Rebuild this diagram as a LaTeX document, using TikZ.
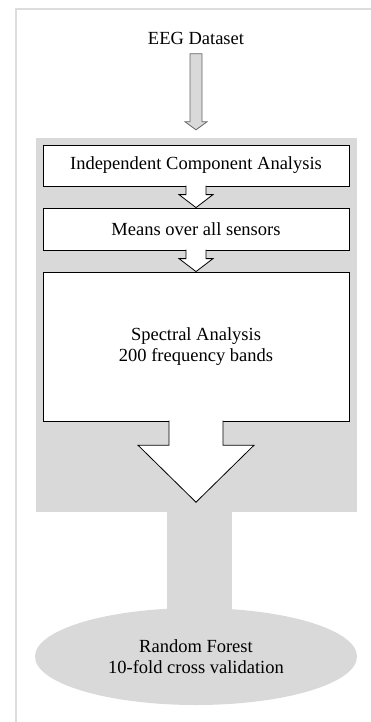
\documentclass[tikz,border=0pt]{standalone}
\usepackage{fontspec}
\setmainfont{Liberation Serif}
\usetikzlibrary{calc,shapes.geometric}
\definecolor{bgray}{HTML}{D9D9D9}
\definecolor{fgray}{HTML}{DDDDDD}
\pgfdeclarelayer{back}
\pgfsetlayers{back,main}
\newcommand\blockarr[6]{%
  \path[#1] let \p1=(#2), \p2=(#3) in
    (\x1-#4pt,\y1+0.7pt) -- (\x1-#4pt,\y2+#6pt) -- (\x1-#5pt,\y2+#6pt) -- (\x2,\y2)
    -- (\x1+#5pt,\y2+#6pt) -- (\x1+#4pt,\y2+#6pt) -- (\x1+#4pt,\y1+0.7pt);}
\tikzset{
  txt/.style={font=\fontsize{18.5}{21}\selectfont, align=center},
  stage/.style={txt, draw=black, line width=0.8pt, fill=white, minimum width=306pt, inner sep=0pt},
  warrow/.style={fill=white, draw=black, line width=0.8pt, line join=miter},
}
\begin{document}
\begin{tikzpicture}[x=1pt,y=-1pt]
\useasboundingbox (0,0) rectangle (371,722);
% frame
\draw[fgray, line width=1.5pt] (16,722) -- (16,9) -- (371,9);
% gray background block
\node[fill=bgray, minimum width=321pt, minimum height=374pt, inner sep=0pt] (bg) at (196.5,325) {};
% random forest ellipse and stem
\node[ellipse, fill=bgray, minimum width=322pt, minimum height=97pt, inner sep=0pt, txt] (rf) at (196,656.5) {Random Forest\\10-fold cross validation};
\begin{pgfonlayer}{back}
\fill[bgray] ($(bg.south)+(-29.5,-2)$) rectangle ($(rf.north)+(35.5,12)$);
\end{pgfonlayer}
% title
\node[txt] (eeg) at (196,38) {EEG Dataset};
% stages
\node[stage, minimum height=41pt] (ica) at (196,165.5) {Independent Component Analysis};
\node[stage, minimum height=42pt] (mean) at (196,229) {Means over all sensors};
\node[stage, minimum height=149pt] (spec) at (196,346.5) {Spectral Analysis\\200 frequency bands};
% input arrow
\coordinate (in1) at ($(eeg.south)+(0,6)$);
\coordinate (in2) at ($(bg.north)+(-0.5,-8)$);
\path[fill=bgray, draw=gray!80!black, line width=0.8pt]
  let \p1=(in1), \p2=(in2) in
  (\x1-6pt,\y1) -- (\x1-6pt,\y2+8pt) -- (\x1-11pt,\y2+8pt) -- (\x2,\y2)
  -- (\x1+11pt,\y2+8pt) -- (\x1+6pt,\y2+8pt) -- (\x1+6pt,\y1) -- cycle;
% block arrows between stages
\blockarr{warrow}{ica.south}{mean.north}{10}{17}{13}
\blockarr{warrow}{mean.south}{spec.north}{10}{17}{13}
\coordinate (tip) at ($(bg.south)+(-0.5,-10)$);
\blockarr{warrow}{spec.south}{tip}{27}{58}{57}
\end{tikzpicture}
\end{document}
